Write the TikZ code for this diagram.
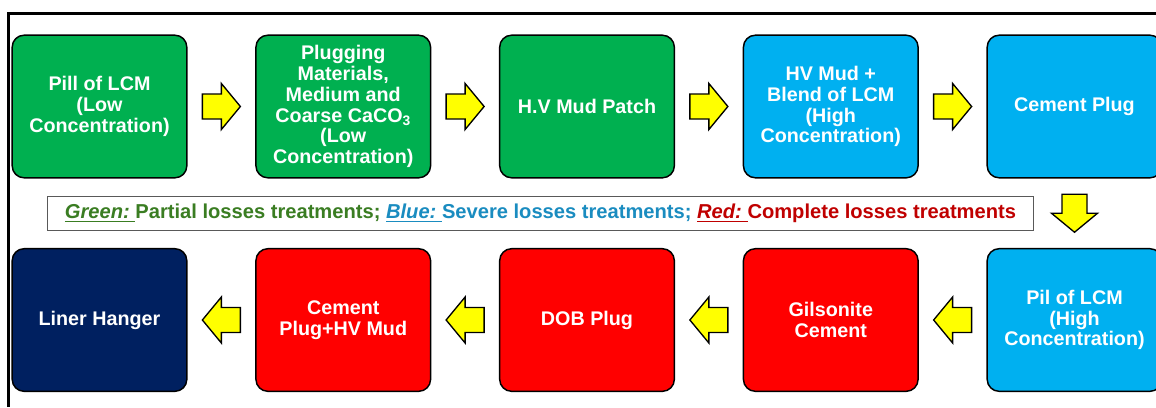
\documentclass[tikz,border=0pt]{standalone}
\usepackage{fontspec}
\setmainfont{Liberation Sans}
\usepackage{xcolor}
\usetikzlibrary{calc}
\definecolor{stgreen}{HTML}{00B050}
\definecolor{stblue}{HTML}{00B0F0}
\definecolor{stred}{HTML}{FF0000}
\definecolor{stnavy}{HTML}{002060}
\definecolor{arrowyellow}{HTML}{FFFF00}
\definecolor{keygreen}{HTML}{3A7D22}
\definecolor{keyblue}{HTML}{1A8CC0}
\definecolor{keyred}{HTML}{C00000}
\tikzset{
  stage/.style={draw=black, line width=1.1pt, rounded corners=9pt, minimum width=131pt, minimum height=107pt, align=center, text=white, inner sep=2pt, font=\fontsize{14.8}{15.6}\selectfont\bfseries},
  gstage/.style={stage, fill=stgreen},
  bstage/.style={stage, fill=stblue},
  rstage/.style={stage, fill=stred},
  nstage/.style={stage, fill=stnavy},
  keybox/.style={draw=black!65, line width=0.9pt, fill=white, minimum width=739pt, minimum height=26pt, inner sep=1pt, font=\fontsize{15.1}{16}\selectfont\bfseries},
  frame/.style={draw=black, line width=2.25pt},
  blockarrow/.pic={\draw[fill=arrowyellow, draw=black, line width=1pt, line join=miter] (-19,-12.5) -- (0,-12.5) -- (0,-23) -- (19,0) -- (0,23) -- (0,12.5) -- (-19,12.5) -- cycle;},
}

\begin{document}
\begin{tikzpicture}[x=0.75pt, y=-0.75pt]
  \useasboundingbox (0,0) rectangle (1156,407);
  \def\rowa{106.5}
  \def\rowb{320}
  \draw[frame] (1156,13.5) -- (8.5,13.5) -- (8.5,407);
  % top row (left to right)
  \node[gstage] (s1) at (99.5,\rowa) {Pill of LCM\\(Low\\Concentration)};
  \node[gstage] (s2) at (343.25,\rowa) {Plugging\\Materials,\\Medium and\\Coarse CaCO\textsubscript{3}\\(Low\\Concentration)};
  \node[gstage] (s3) at (587,\rowa) {H.V Mud Patch};
  \node[bstage] (s4) at (830.75,\rowa) {HV Mud +\\Blend of LCM\\(High\\Concentration)};
  \node[bstage] (s5) at (1074.5,\rowa) {Cement Plug};
  % bottom row (right to left)
  \node[bstage] (s6) at (1074.5,\rowb) {Pil of LCM\\(High\\Concentration)};
  \node[rstage] (s7) at (830.75,\rowb) {Gilsonite\\Cement};
  \node[rstage] (s8) at (587,\rowb) {DOB Plug};
  \node[rstage] (s9) at (343.25,\rowb) {Cement\\Plug+HV Mud};
  \node[nstage] (s10) at (99.5,\rowb) {Liner Hanger};
  % colour key
  \node[keybox] (key) at (540.5,213.5) {\textcolor{keygreen}{\underline{\textit{Green:}\ }Partial losses treatments;} \textcolor{keyblue}{\underline{\textit{Blue:}\ }Severe losses treatments;} \textcolor{keyred}{\underline{\textit{Red:}\ }Complete losses treatments}};
  % yellow arrows
  \foreach \a/\b in {s1/s2, s2/s3, s3/s4, s4/s5}
    \pic at ($(\a.east)!0.5!(\b.west)$) {blockarrow};
  \pic[rotate=-90] at ($(s5.south)!0.5!(s6.north)$) {blockarrow};
  \foreach \a/\b in {s6/s7, s7/s8, s8/s9, s9/s10}
    \pic[rotate=180] at ($(\a.west)!0.5!(\b.east)$) {blockarrow};
\end{tikzpicture}
\end{document}
